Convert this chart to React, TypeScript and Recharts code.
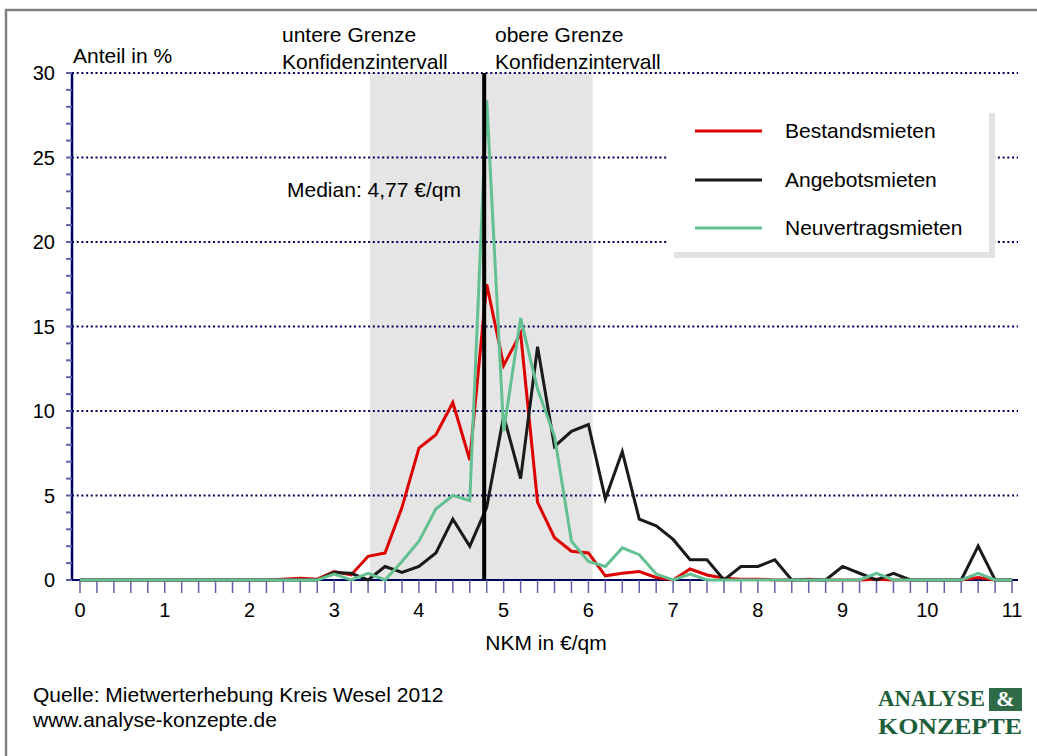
import { LineChart, Line, XAxis, YAxis, ReferenceLine, ReferenceArea } from 'recharts';

// NKM in €/qm, Klassen zu 0,2
const nkm = [
  0, 0.2, 0.4, 0.6, 0.8, 1, 1.2, 1.4, 1.6, 1.8,
  2, 2.2, 2.4, 2.6, 2.8, 3, 3.2, 3.4, 3.6, 3.8,
  4, 4.2, 4.4, 4.6, 4.8, 5, 5.2, 5.4, 5.6, 5.8,
  6, 6.2, 6.4, 6.6, 6.8, 7, 7.2, 7.4, 7.6, 7.8,
  8, 8.2, 8.4, 8.6, 8.8, 9, 9.2, 9.4, 9.6, 9.8,
  10, 10.2, 10.4, 10.6, 10.8, 11,
];

const bestandsmieten = [
  0, 0, 0, 0, 0, 0, 0, 0, 0, 0,
  0, 0, 0.05, 0.1, 0.05, 0.5, 0.3, 1.4, 1.6, 4.3,
  7.8, 8.6, 10.5, 7.1, 17.5, 12.7, 14.6, 4.6, 2.5, 1.7,
  1.6, 0.25, 0.4, 0.5, 0.15, 0, 0.65, 0.3, 0.1, 0.05,
  0.05, 0, 0, 0.05, 0, 0, 0, 0.05, 0, 0,
  0, 0, 0, 0.15, 0, 0,
];

const angebotsmieten = [
  0, 0, 0, 0, 0, 0, 0, 0, 0, 0,
  0, 0, 0, 0, 0, 0.45, 0.4, 0, 0.8, 0.45,
  0.8, 1.6, 3.6, 2.0, 4.3, 9.7, 6.0, 13.8, 7.9, 8.8,
  9.2, 4.8, 7.6, 3.6, 3.2, 2.4, 1.2, 1.2, 0, 0.8,
  0.8, 1.2, 0, 0, 0, 0.8, 0.4, 0, 0.4, 0,
  0, 0, 0, 2.0, 0, 0,
];

const neuvertragsmieten = [
  0, 0, 0, 0, 0, 0, 0, 0, 0, 0,
  0, 0, 0, 0, 0, 0.35, 0, 0.4, 0, 1.1,
  2.3, 4.2, 5.0, 4.7, 28.4, 8.8, 15.5, 11.3, 8.5, 2.3,
  1.1, 0.8, 1.9, 1.5, 0.35, 0, 0.35, 0, 0, 0,
  0, 0, 0, 0, 0, 0, 0, 0.4, 0, 0,
  0, 0, 0, 0.4, 0, 0,
];

const yTicks = [
  0, 1, 2, 3, 4, 5, 6, 7, 8, 9, 10, 11, 12, 13, 14, 15,
  16, 17, 18, 19, 20, 21, 22, 23, 24, 25, 26, 27, 28, 29, 30,
];
const gridValues = [5, 10, 15, 20, 25, 30];

const median = 4.77;
const konfidenzUnten = 3.42;
const konfidenzOben = 6.05;

const series = [
  { key: 'bestand', name: 'Bestandsmieten', color: '#dd0000' },
  { key: 'angebot', name: 'Angebotsmieten', color: '#1a1a1a' },
  { key: 'neu', name: 'Neuvertragsmieten', color: '#63c092' },
];

const data = nkm.map((x, i) => ({
  x,
  bestand: bestandsmieten[i],
  angebot: angebotsmieten[i],
  neu: neuvertragsmieten[i],
}));

const FONT = '"Liberation Sans", Arial, sans-serif';
const NAVY = '#00005e';
const TICK = '#6060a8';

const isInt = (v: number) => Math.abs(v - Math.round(v)) < 1e-6;

export default function App() {
  return (
    <div style={{ position: 'fixed', left: 0, top: 0, width: 1037, height: 756, background: '#fff', overflow: 'hidden' }}>
      <LineChart
        width={1037}
        height={756}
        data={data}
        margin={{ top: 73, right: 19, bottom: 116, left: 0 }}
      >
        <XAxis
          dataKey="x"
          type="number"
          domain={[-0.0944, 11.07]}
          allowDataOverflow
          ticks={nkm}
          interval={0}
          height={60}
          tickSize={13}
          tickMargin={10}
          tickFormatter={(v: number) => (isInt(v) ? String(Math.round(v)) : '')}
          axisLine={{ stroke: NAVY, strokeWidth: 2 }}
          tickLine={{ stroke: TICK, strokeWidth: 1.5 }}
          tick={{ fill: '#000', fontSize: 20, fontFamily: FONT }}
        />
        <YAxis
          type="number"
          domain={[0, 30]}
          ticks={yTicks}
          interval={0}
          width={72}
          tickSize={6}
          tickMargin={11}
          tickFormatter={(v: number) => (v % 5 === 0 ? String(v) : '')}
          axisLine={{ stroke: NAVY, strokeWidth: 2.5 }}
          tickLine={{ stroke: TICK, strokeWidth: 2 }}
          tick={{ fill: '#000', fontSize: 20, fontFamily: FONT }}
        />
        <ReferenceArea
          x1={konfidenzUnten}
          x2={konfidenzOben}
          y1={0}
          y2={30}
          fill="#e5e5e5"
          fillOpacity={1}
          stroke="none"
          zIndex={50}
        />
        {gridValues.map((v) => (
          <ReferenceLine
            key={v}
            y={v}
            stroke={NAVY}
            strokeWidth={2}
            strokeDasharray="2 2.7"
            zIndex={60}
          />
        ))}
        {series.map((s) => (
          <Line
            key={s.key}
            dataKey={s.key}
            name={s.name}
            type="linear"
            stroke={s.color}
            strokeWidth={3}
            dot={false}
            activeDot={false}
            isAnimationActive={false}
            zIndex={600}
          />
        ))}
        <ReferenceLine x={median} stroke="#000" strokeWidth={4} zIndex={700} />
      </LineChart>

      <svg
        width={1037}
        height={756}
        style={{ position: 'absolute', left: 0, top: 0, pointerEvents: 'none' }}
        fontFamily={FONT}
      >
        <rect x={6} y={10} width={1040} height={760} fill="none" stroke="#808080" strokeWidth={2.5} />

        <text x={73} y={63} fontSize={21} fill="#000">Anteil in %</text>
        <text x={282} y={42} fontSize={21} fill="#000">untere Grenze</text>
        <text x={282} y={69} fontSize={21} fill="#000">Konfidenzintervall</text>
        <text x={495} y={42} fontSize={21} fill="#000">obere Grenze</text>
        <text x={495} y={69} fontSize={21} fill="#000">Konfidenzintervall</text>
        <text x={287} y={197} fontSize={21} fill="#000">Median: 4,77 €/qm</text>
        <text x={546} y={650} fontSize={21} fill="#000" textAnchor="middle">NKM in €/qm</text>

        <text x={33} y={702} fontSize={21} fill="#000">Quelle: Mietwerterhebung Kreis Wesel 2012</text>
        <text x={33} y={727} fontSize={21} fill="#000">www.analyse-konzepte.de</text>

        <g fontFamily='"Liberation Serif", "Times New Roman", serif' fontWeight="bold" fill="#1d5e3b">
          <text x={878} y={706} fontSize={24} textLength={107} lengthAdjust="spacingAndGlyphs">ANALYSE</text>
          <rect x={989} y={688} width={33} height={23} fill="#2f6b47" />
          <text x={1005.5} y={706} fontSize={22} fill="#fff" textAnchor="middle">&amp;</text>
          <text x={878} y={734} fontSize={24} textLength={144} lengthAdjust="spacingAndGlyphs">KONZEPTE</text>
        </g>

        <rect x={674} y={113} width={321} height={145} fill="#e2e2e2" />
        <rect x={668} y={107} width={321} height={145} fill="#fff" />
        {series.map((s, i) => {
          const cy = [131, 180, 228][i];
          return (
            <g key={s.key}>
              <line x1={695} x2={762} y1={cy} y2={cy} stroke={s.color} strokeWidth={3} />
              <text x={785} y={cy + 7} fontSize={21} fill="#000">{s.name}</text>
            </g>
          );
        })}
      </svg>
    </div>
  );
}
